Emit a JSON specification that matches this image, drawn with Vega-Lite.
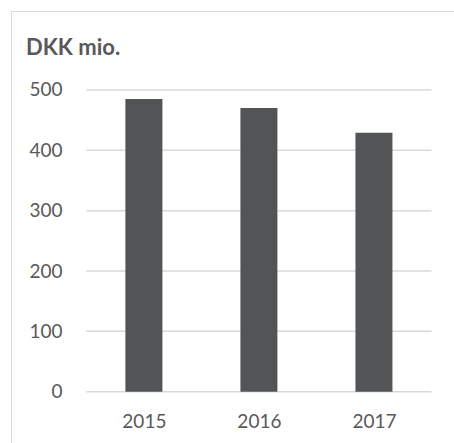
{
  "$schema": "https://vega.github.io/schema/vega-lite/v6.json",
  "width": 445,
  "height": 434,
  "autosize": {"type": "none"},
  "padding": {"left": 11, "top": 11, "right": -2, "bottom": -2},
  "background": "white",
  "config": {
    "view": {"stroke": "#d9d9d9", "strokeWidth": 1},
    "font": "Lato"
  },
  "title": {
    "text": "DKK mio.",
    "anchor": "start",
    "frame": "group",
    "offset": 0,
    "dx": 15,
    "dy": 66,
    "baseline": "alphabetic",
    "font": "Lato",
    "fontSize": 22,
    "fontWeight": "bold",
    "color": "#595959"
  },
  "layer": [
    {
      "data": {"values": [{"tick": 0}, {"tick": 100}, {"tick": 200}, {"tick": 300}, {"tick": 400}, {"tick": 500}]},
      "mark": {"type": "rule", "color": "#d9d9d9", "strokeWidth": 1.5},
      "encoding": {
        "y": {"field": "tick", "type": "quantitative", "title": null, "scale": {"domain": [-88.33, 630.92], "nice": false, "zero": false}},
        "x": {"datum": 2014.5, "type": "quantitative", "title": null},
        "x2": {"datum": 2017.5}
      }
    },
    {
      "data": {"values": [
        {"year": 2015, "value": 485},
        {"year": 2016, "value": 470},
        {"year": 2017, "value": 429}
      ]},
      "mark": {"type": "bar", "orient": "vertical", "size": 37, "color": "#535456"},
      "encoding": {
        "x": {
          "field": "year",
          "type": "quantitative",
          "title": null,
          "scale": {"domain": [2013.8881, 2017.6699], "nice": false, "zero": false},
          "axis": {
            "values": [2015, 2016, 2017],
            "format": "d",
            "offset": -53.3,
            "domain": false,
            "ticks": false,
            "grid": false,
            "labelPadding": 21,
            "labelFlush": false,
            "labelFont": "Lato",
            "labelFontSize": 19,
            "labelColor": "#595959"
          }
        },
        "y": {
          "field": "value",
          "type": "quantitative",
          "title": null,
          "scale": {"domain": [-88.33, 630.92], "nice": false, "zero": false},
          "axis": {
            "values": [0, 100, 200, 300, 400, 500],
            "offset": -72,
            "domain": false,
            "ticks": false,
            "grid": false,
            "labelPadding": 21,
            "labelFont": "Lato",
            "labelFontSize": 19,
            "labelColor": "#595959"
          }
        }
      }
    }
  ]
}
